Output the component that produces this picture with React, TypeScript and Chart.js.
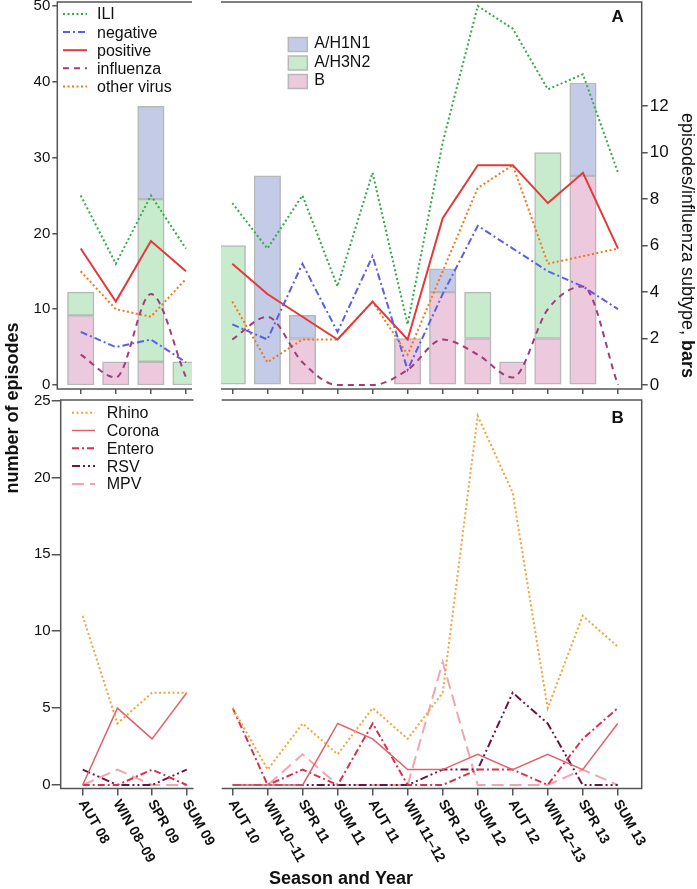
import React, { useEffect, useRef } from 'react';
import { Chart, registerables } from 'chart.js';

Chart.register(...registerables);

// ---------------- data ----------------
const seasonsLeft = ['AUT 08', 'WIN 08–09', 'SPR 09', 'SUM 09'];
const seasonsRight = ['AUT 10', 'WIN 10–11', 'SPR 11', 'SUM 11', 'AUT 11', 'WIN 11–12', 'SPR 12', 'SUM 12', 'AUT 12', 'WIN 12–13', 'SPR 13', 'SUM 13'];

// Panel A – number of episodes (left axis)
const iliLeft = [25, 16, 25, 18];
const iliRight = [24, 18, 25, 13, 28, 8, 32, 50, 47, 39, 41, 28];
const negativeLeft = [7, 5, 6, 3];
const negativeRight = [8, 6, 16, 7, 17, 2, 12, 21, 18, 15, 13, 10];
const positiveLeft = [18, 11, 19, 15];
const positiveRight = [16, 12, 9, 6, 11, 6, 22, 29, 29, 24, 28, 18];
const influenzaLeft = [4, 1, 12, 1];
const influenzaRight = [6, 9, 3, 0, 0, 2, 6, 4, 1, 10, 13, 0];
const otherVirusLeft = [15, 10, 9, 14];
const otherVirusRight = [11, 3, 6, 6, 11, 4, 15, 26, 29, 16, 17, 18];

// Panel A – episodes per influenza subtype (bars, right axis)
const h1n1Left = [0, 0, 4, 0];
const h1n1Right = [0, 9, 1, 0, 0, 0, 1, 0, 0, 0, 4, 0];
const h3n2Left = [1, 0, 7, 1];
const h3n2Right = [6, 0, 0, 0, 0, 0, 0, 2, 0, 8, 0, 0];
const fluBLeft = [3, 1, 1, 0];
const fluBRight = [0, 0, 2, 0, 0, 2, 4, 2, 1, 2, 9, 0];

// Panel B – other viruses
const rhinoLeft = [11, 4, 6, 6];
const rhinoRight = [5, 1, 4, 2, 5, 3, 6, 24, 19, 5, 11, 9];
const coronaLeft = [0, 5, 3, 6];
const coronaRight = [0, 0, 0, 4, 3, 1, 1, 2, 1, 2, 1, 4];
const enteroLeft = [0, 0, 1, 0];
const enteroRight = [5, 0, 1, 0, 4, 0, 0, 1, 1, 0, 3, 5];
const rsvLeft = [1, 0, 0, 1];
const rsvRight = [0, 0, 0, 0, 0, 0, 1, 1, 6, 4, 0, 0];
const mpvLeft = [0, 1, 0, 0];
const mpvRight = [0, 0, 2, 0, 0, 0, 8, 0, 0, 0, 1, 0];

// tick labels
const ticksEpisodesA = [0, 10, 20, 30, 40, 50];
const ticksSubtype = [0, 2, 4, 6, 8, 10, 12];
const ticksEpisodesB = [0, 5, 10, 15, 20, 25];

// ---------------- styles ----------------
const W = 697;
const H = 889;
const FONT = '"Liberation Sans", Arial, Helvetica, sans-serif';
const AXIS = '#555555';
const TEXT = '#111111';

type LineStyle = { color: string; dash: number[]; width: number; smooth?: boolean };
const STYLE: Record<string, LineStyle> = {
  ILI: { color: '#34aa48', dash: [2, 2.5], width: 2 },
  negative: { color: '#5b5fe4', dash: [7, 3, 2, 3], width: 2 },
  positive: { color: '#e23a3a', dash: [], width: 2 },
  influenza: { color: '#a23c7c', dash: [6, 5], width: 2, smooth: true },
  'other virus': { color: '#f0781e', dash: [2, 2.5], width: 2 },
  Rhino: { color: '#f2a43a', dash: [2, 2.5], width: 2 },
  Corona: { color: '#e2626c', dash: [], width: 1.5 },
  Entero: { color: '#d9304e', dash: [7, 3, 2, 3], width: 2 },
  RSV: { color: '#6a1442', dash: [8, 3, 2, 3, 2, 3], width: 2 },
  MPV: { color: '#f5a3ad', dash: [12, 6], width: 2 },
};
const BAR_FILL: Record<string, string> = {
  'A/H1N1': '#c3cbe7',
  'A/H3N2': '#c7ebcc',
  B: '#ecc9dc',
};
const BAR_BORDER = '#b8b8b8';

// ---------------- geometry ----------------
type Geom = { left: number; right: number; top: number; bottom: number; xMin: number; xMax: number; axisL: number; axisR: number };
const G_AL: Geom = { left: 57.3, right: 192, top: 2, bottom: 389, xMin: -0.667, xMax: 3.171, axisL: 57.3, axisR: 0 };
const G_AR: Geom = { left: 221, right: 641.7, top: 2, bottom: 389, xMin: -0.322, xMax: 11.675, axisL: 0, axisR: 55.3 };
const G_BL: Geom = { left: 60.7, right: 193.5, top: 400, bottom: 788.5, xMin: -0.635, xMax: 3.196, axisL: 60.7, axisR: 0 };
const G_BR: Geom = { left: 221.7, right: 641.7, top: 400, bottom: 788.5, xMin: -0.314, xMax: 11.686, axisL: 0, axisR: 0 };
const A_Y = { min: -0.528, max: 50.528 };
const A_Y2 = { min: -0.172, max: 16.487 };
const B_Y = { min: -0.228, max: 25.03 };

const pad = (g: Geom) => ({ left: g.left - g.axisL, right: W - g.right - g.axisR, top: g.top, bottom: H - g.bottom });
const zeroPad = (s: any) => { s.paddingLeft = 0; s.paddingRight = 0; s.paddingTop = 0; s.paddingBottom = 0; };
const setTicks = (vals: number[]) => (s: any) => { s.ticks = vals.map((value) => ({ value })); };

function xScale(g: Geom, labels: string[], tickLen: number) {
  return {
    type: 'linear',
    position: 'bottom',
    min: g.xMin,
    max: g.xMax,
    offset: false,
    stacked: true,
    bounds: 'data',
    afterBuildTicks: setTicks(labels.map((_, i) => i)),
    afterFit: (s: any) => { s.height = 0; zeroPad(s); },
    ticks: { display: false, autoSkip: false },
    border: { display: false },
    grid: { display: true, offset: false, drawOnChartArea: false, drawTicks: true, tickLength: tickLen, color: AXIS, lineWidth: 1.5 },
  };
}

function yScale(pos: string, range: { min: number; max: number }, vals: number[], width: number, tickLen: number, size: number, padding: number, stacked: boolean) {
  const show = width > 0;
  return {
    type: 'linear',
    position: pos,
    display: show,
    min: range.min,
    max: range.max,
    stacked,
    bounds: 'data',
    afterBuildTicks: setTicks(vals),
    afterFit: (s: any) => { s.width = width; zeroPad(s); },
    ticks: { display: show, autoSkip: false, color: TEXT, font: { family: FONT, size }, padding },
    border: { display: false },
    grid: { display: show, drawOnChartArea: false, drawTicks: true, tickLength: tickLen, color: AXIS, lineWidth: 1.5 },
  };
}

function lineDs(label: string, vals: number[]) {
  const st = STYLE[label];
  return {
    type: 'line',
    label,
    data: vals.map((y, i) => ({ x: i, y })),
    yAxisID: 'y',
    borderColor: st.color,
    backgroundColor: st.color,
    borderWidth: st.width,
    borderDash: st.dash,
    borderCapStyle: 'butt',
    pointRadius: 0,
    pointHoverRadius: 0,
    fill: false,
    tension: st.smooth ? 0.4 : 0,
    cubicInterpolationMode: st.smooth ? 'monotone' : 'default',
    order: 0,
  };
}

function barDs(label: string, vals: number[]) {
  return {
    type: 'bar',
    label,
    data: vals.map((y, i) => ({ x: i, y })),
    yAxisID: 'y2',
    backgroundColor: BAR_FILL[label],
    borderColor: BAR_BORDER,
    borderWidth: 1.5,
    borderSkipped: false,
    barThickness: 26.5,
    stack: 'flu',
    order: 1,
  };
}

// ---------------- plugins ----------------
function framePlugin(side: 'left' | 'right') {
  return {
    id: 'frame',
    afterDraw(chart: any) {
      const { ctx, chartArea: a } = chart;
      ctx.save();
      ctx.strokeStyle = AXIS;
      ctx.lineWidth = 1.5;
      ctx.beginPath();
      ctx.moveTo(a.left, a.top);
      ctx.lineTo(a.right, a.top);
      ctx.moveTo(a.left, a.bottom);
      ctx.lineTo(a.right, a.bottom);
      const x = side === 'left' ? a.left : a.right;
      ctx.moveTo(x, a.top - 0.75);
      ctx.lineTo(x, a.bottom + 0.75);
      ctx.stroke();
      ctx.restore();
    },
  };
}

function lineLegendPlugin(dx: number, dy: number, len: number, gap: number, rowH: number) {
  return {
    id: 'lineLegend',
    afterDraw(chart: any) {
      const { ctx, chartArea: a } = chart;
      const items = chart.data.datasets.filter((d: any) => d.type === 'line');
      ctx.save();
      items.forEach((d: any, i: number) => {
        const x = a.left + dx;
        const y = a.top + dy + i * rowH;
        ctx.strokeStyle = d.borderColor;
        ctx.lineWidth = d.borderWidth;
        ctx.setLineDash(d.borderDash || []);
        ctx.lineCap = 'butt';
        ctx.beginPath();
        ctx.moveTo(x, y);
        ctx.lineTo(x + len, y);
        ctx.stroke();
        ctx.setLineDash([]);
        ctx.fillStyle = TEXT;
        ctx.font = `16px ${FONT}`;
        ctx.textAlign = 'left';
        ctx.textBaseline = 'middle';
        ctx.fillText(d.label, x + len + gap, y + 1);
      });
      ctx.restore();
    },
  };
}

function barLegendPlugin(dx: number, dy: number, w: number, h: number, gap: number, rowH: number) {
  return {
    id: 'barLegend',
    afterDraw(chart: any) {
      const { ctx, chartArea: a } = chart;
      const items = chart.data.datasets.filter((d: any) => d.type === 'bar').slice().reverse();
      ctx.save();
      items.forEach((d: any, i: number) => {
        const x = a.left + dx;
        const y = a.top + dy + i * rowH;
        ctx.fillStyle = d.backgroundColor;
        ctx.fillRect(x, y - h / 2 + 1.5, w, h);
        ctx.strokeStyle = BAR_BORDER;
        ctx.lineWidth = 1.5;
        ctx.strokeRect(x, y - h / 2 + 1.5, w, h);
        ctx.fillStyle = TEXT;
        ctx.font = `16px ${FONT}`;
        ctx.textAlign = 'left';
        ctx.textBaseline = 'middle';
        ctx.fillText(d.label, x + w + gap, y + 1);
      });
      ctx.restore();
    },
  };
}

function rotatedXLabelsPlugin(labels: string[]) {
  return {
    id: 'rotX',
    afterDraw(chart: any) {
      const { ctx, chartArea: a } = chart;
      const sx = chart.scales.x;
      ctx.save();
      ctx.font = `bold 14px ${FONT}`;
      ctx.fillStyle = TEXT;
      ctx.textAlign = 'left';
      ctx.textBaseline = 'middle';
      labels.forEach((lab, i) => {
        const x = sx.getPixelForValue(i);
        ctx.save();
        ctx.translate(x - 1, a.bottom + 12.5);
        ctx.rotate(Math.PI / 3);
        ctx.fillText(lab, 0, 0);
        ctx.restore();
      });
      ctx.restore();
    },
  };
}

type TextPart = { t: string; font: string };
type TextItem = { parts: TextPart[]; x: number; y: number; rot?: number };
function textPlugin(items: TextItem[]) {
  return {
    id: 'texts',
    afterDraw(chart: any) {
      const { ctx } = chart;
      items.forEach((it) => {
        ctx.save();
        ctx.translate(it.x, it.y);
        ctx.rotate(it.rot || 0);
        ctx.fillStyle = TEXT;
        ctx.textBaseline = 'middle';
        ctx.textAlign = 'left';
        const widths = it.parts.map((p) => { ctx.font = p.font; return ctx.measureText(p.t).width; });
        const total = widths.reduce((s, v) => s + v, 0);
        let x = -total / 2;
        it.parts.forEach((p, i) => {
          ctx.font = p.font;
          ctx.fillText(p.t, x, 0);
          x += widths[i];
        });
        ctx.restore();
      });
    },
  };
}

// ---------------- chart configs ----------------
const baseOptions = (g: Geom) => ({
  responsive: false,
  maintainAspectRatio: false,
  animation: false,
  devicePixelRatio: 1,
  events: [],
  layout: { padding: pad(g), autoPadding: false },
  plugins: { legend: { display: false }, tooltip: { enabled: false } },
});

function configAL(): any {
  return {
    type: 'line',
    data: {
      datasets: [
        lineDs('ILI', iliLeft),
        lineDs('negative', negativeLeft),
        lineDs('positive', positiveLeft),
        lineDs('influenza', influenzaLeft),
        lineDs('other virus', otherVirusLeft),
        barDs('B', fluBLeft),
        barDs('A/H3N2', h3n2Left),
        barDs('A/H1N1', h1n1Left),
      ],
    },
    options: {
      ...baseOptions(G_AL),
      scales: {
        x: xScale(G_AL, seasonsLeft, 5),
        y: yScale('left', A_Y, ticksEpisodesA, G_AL.axisL, 5, 15, 2, false),
        y2: yScale('right', A_Y2, ticksSubtype, 0, 0, 17, 2, true),
      },
    },
    plugins: [framePlugin('left'), lineLegendPlugin(5.7, 12, 24, 10, 18.1)],
  };
}

function configAR(): any {
  return {
    type: 'line',
    data: {
      datasets: [
        lineDs('ILI', iliRight),
        lineDs('negative', negativeRight),
        lineDs('positive', positiveRight),
        lineDs('influenza', influenzaRight),
        lineDs('other virus', otherVirusRight),
        barDs('B', fluBRight),
        barDs('A/H3N2', h3n2Right),
        barDs('A/H1N1', h1n1Right),
      ],
    },
    options: {
      ...baseOptions(G_AR),
      scales: {
        x: xScale(G_AR, seasonsRight, 5),
        y: yScale('left', A_Y, ticksEpisodesA, 0, 0, 15, 2, false),
        y2: yScale('right', A_Y2, ticksSubtype, G_AR.axisR, 6, 17, 2, true),
      },
    },
    plugins: [
      framePlugin('right'),
      barLegendPlugin(67.3, 41, 19, 14, 7, 18.5),
      textPlugin([
        { parts: [{ t: 'A', font: `bold 17px ${FONT}` }], x: 617.7, y: 17 },
        {
          parts: [
            { t: 'episodes/influenza subtype, ', font: `18px ${FONT}` },
            { t: 'bars', font: `bold 18px ${FONT}` },
          ],
          x: 687,
          y: 245.5,
          rot: Math.PI / 2,
        },
      ]),
    ],
  };
}

function configBL(): any {
  return {
    type: 'line',
    data: {
      datasets: [
        lineDs('Rhino', rhinoLeft),
        lineDs('Corona', coronaLeft),
        lineDs('Entero', enteroLeft),
        lineDs('RSV', rsvLeft),
        lineDs('MPV', mpvLeft),
      ],
    },
    options: {
      ...baseOptions(G_BL),
      scales: {
        x: xScale(G_BL, seasonsLeft, 7),
        y: yScale('left', B_Y, ticksEpisodesB, G_BL.axisL, 9, 15, 1, false),
      },
    },
    plugins: [
      framePlugin('left'),
      lineLegendPlugin(11.3, 12.7, 23, 11.7, 17.8),
      rotatedXLabelsPlugin(seasonsLeft),
      textPlugin([
        { parts: [{ t: 'number of episodes', font: `bold 18px ${FONT}` }], x: 13, y: 408, rot: -Math.PI / 2 },
      ]),
    ],
  };
}

function configBR(): any {
  return {
    type: 'line',
    data: {
      datasets: [
        lineDs('Rhino', rhinoRight),
        lineDs('Corona', coronaRight),
        lineDs('Entero', enteroRight),
        lineDs('RSV', rsvRight),
        lineDs('MPV', mpvRight),
      ],
    },
    options: {
      ...baseOptions(G_BR),
      scales: {
        x: xScale(G_BR, seasonsRight, 7),
        y: yScale('left', B_Y, ticksEpisodesB, 0, 0, 15, 1, false),
      },
    },
    plugins: [
      framePlugin('right'),
      rotatedXLabelsPlugin(seasonsRight),
      textPlugin([
        { parts: [{ t: 'B', font: `bold 17px ${FONT}` }], x: 617.7, y: 418.5 },
        { parts: [{ t: 'Season and Year', font: `bold 18px ${FONT}` }], x: 341, y: 879 },
      ]),
    ],
  };
}

export default function App() {
  const r1 = useRef<HTMLCanvasElement>(null);
  const r2 = useRef<HTMLCanvasElement>(null);
  const r3 = useRef<HTMLCanvasElement>(null);
  const r4 = useRef<HTMLCanvasElement>(null);

  useEffect(() => {
    const charts = [
      new Chart(r1.current as HTMLCanvasElement, configAL()),
      new Chart(r2.current as HTMLCanvasElement, configAR()),
      new Chart(r3.current as HTMLCanvasElement, configBL()),
      new Chart(r4.current as HTMLCanvasElement, configBR()),
    ];
    return () => charts.forEach((c) => c.destroy());
  }, []);

  const cs: React.CSSProperties = { position: 'absolute', left: 0, top: 0, width: W, height: H };
  return (
    <div style={{ position: 'absolute', left: 0, top: 0, width: W, height: H, background: '#ffffff', overflow: 'hidden' }}>
      <canvas ref={r1} width={W} height={H} style={cs} />
      <canvas ref={r2} width={W} height={H} style={cs} />
      <canvas ref={r3} width={W} height={H} style={cs} />
      <canvas ref={r4} width={W} height={H} style={cs} />
    </div>
  );
}
